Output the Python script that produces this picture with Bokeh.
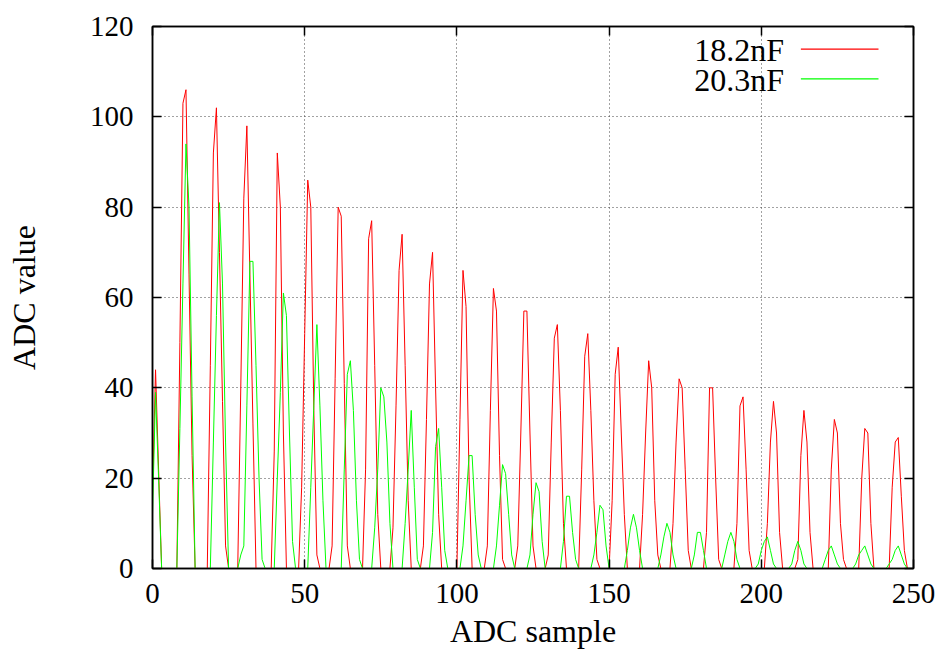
from bokeh.plotting import figure
from bokeh.models import Range1d, LinearAxis, Label, Arrow, FixedTicker, CustomJSTickFormatter
from bokeh.embed import file_html
from bokeh.resources import INLINE

# ---------------- data ----------------
series_names = ["18.2nF", "20.3nF"]
series_colors = ["#ff0000", "#00ff00"]

x_ticks = [0, 50, 100, 150, 200, 250]
y_ticks = [0, 20, 40, 60, 80, 100, 120]

sample = list(range(250))

adc_182nF = [
    16, 44, 22, 0, 0, 0, 0, 0, 0, 50,
    103, 106, 65, 25, 0, 0, 0, 0, 0, 45,
    92, 102, 70, 37, 5, 0, 0, 0, 0, 40,
    82, 98, 65, 32, 0, 0, 0, 0, 0, 0,
    26, 92, 80, 30, 0, 0, 0, 0, 0, 18,
    52, 86, 80, 35, 3, 0, 0, 0, 0, 5,
    42, 80, 78, 41, 5, 0, 0, 0, 0, 0,
    22, 73, 77, 45, 12, 0, 0, 0, 0, 9,
    36, 66, 74, 45, 15, 0, 0, 0, 0, 5,
    33, 63, 70, 40, 12, 0, 0, 0, 0, 0,
    0, 33, 66, 58, 20, 0, 0, 0, 0, 0,
    5, 35, 62, 57, 25, 2, 0, 0, 0, 0,
    5, 30, 57, 57, 30, 5, 0, 0, 0, 0,
    3, 28, 51, 54, 35, 10, 0, 0, 0, 0,
    0, 22, 47, 52, 35, 15, 2, 0, 0, 0,
    0, 15, 43, 49, 30, 12, 0, 0, 0, 0,
    0, 12, 30, 46, 40, 15, 3, 0, 0, 0,
    0, 10, 28, 42, 40, 22, 4, 0, 0, 0,
    0, 0, 8, 40, 40, 20, 2, 0, 0, 0,
    0, 0, 10, 36, 38, 22, 4, 0, 0, 0,
    0, 0, 10, 28, 37, 30, 8, 0, 0, 0,
    0, 0, 2, 25, 35, 28, 8, 0, 0, 0,
    0, 0, 0, 22, 33, 30, 10, 2, 0, 0,
    0, 0, 0, 20, 31, 30, 10, 0, 0, 0,
    0, 0, 0, 18, 28, 29, 16, 4, 0, 0,
]

adc_203nF = [
    12, 39, 20, 0, 0, 0, 0, 0, 0, 31,
    63, 94, 80, 38, 0, 0, 0, 0, 0, 0,
    28, 56, 81, 63, 28, 0, 0, 0, 0, 3,
    5, 36, 68, 68, 45, 20, 2, 0, 0, 0,
    0, 20, 39, 61, 56, 30, 6, 0, 0, 0,
    0, 0, 18, 36, 54, 36, 15, 0, 0, 0,
    0, 0, 0, 22, 43, 46, 35, 15, 2, 0,
    0, 0, 0, 9, 22, 40, 38, 28, 10, 0,
    0, 0, 0, 10, 22, 35, 18, 2, 0, 0,
    0, 0, 8, 27, 31, 18, 4, 0, 0, 0,
    0, 0, 5, 15, 25, 25, 12, 3, 0, 0,
    0, 0, 0, 5, 14, 23, 21, 12, 3, 0,
    0, 0, 0, 0, 3, 12, 19, 17, 6, 0,
    0, 0, 0, 0, 0, 6, 16, 16, 8, 2,
    0, 0, 0, 0, 0, 3, 8, 14, 13, 5,
    0, 0, 0, 0, 0, 0, 4, 9, 12, 9,
    4, 0, 0, 0, 0, 0, 0, 3, 7, 10,
    8, 3, 0, 0, 0, 0, 0, 0, 3, 8,
    8, 4, 0, 0, 0, 0, 0, 0, 3, 6,
    8, 6, 2, 0, 0, 0, 0, 0, 0, 1,
    4, 6, 7, 4, 1, 0, 0, 0, 0, 0,
    1, 4, 6, 4, 1, 0, 0, 0, 0, 0,
    0, 2, 4, 5, 3, 1, 0, 0, 0, 0,
    0, 1, 3, 4, 5, 3, 1, 0, 0, 0,
    0, 0, 1, 2, 4, 5, 3, 1, 0, 0,
]

# ---------------- figure ----------------
FONT = "Liberation Serif"

p = figure(
    width=938, height=656,
    x_range=Range1d(0, 250), y_range=Range1d(0, 120),
    output_backend="svg", toolbar_location=None,
    min_border_left=152, min_border_right=25,
    min_border_top=26, min_border_bottom=88,
    background_fill_color="white", border_fill_color="white",
)

xa = p.below[0]
ya = p.left[0]

p.line(sample, adc_182nF, line_color=series_colors[0], line_width=1)
p.line(sample, adc_203nF, line_color=series_colors[1], line_width=1)

# mirrored axes (ticks only)
right_axis = LinearAxis(ticker=FixedTicker(ticks=y_ticks),
                        formatter=CustomJSTickFormatter(code="return ''"))
top_axis = LinearAxis(ticker=FixedTicker(ticks=x_ticks),
                      formatter=CustomJSTickFormatter(code="return ''"))
p.add_layout(right_axis, "right")
p.add_layout(top_axis, "above")

xa.ticker = FixedTicker(ticks=x_ticks)
ya.ticker = FixedTicker(ticks=y_ticks)

for ax in [xa, ya, right_axis, top_axis]:
    ax.axis_line_color = "black"
    ax.axis_line_width = 1.5
    ax.major_tick_in = 9
    ax.major_tick_out = 0
    ax.major_tick_line_color = "black"
    ax.major_tick_line_width = 1.5
    ax.minor_tick_line_color = None
    ax.major_label_text_font = FONT
    ax.major_label_text_color = "black"
    ax.axis_label_text_font = FONT
    ax.axis_label_text_font_style = "normal"
    ax.axis_label_text_color = "black"

for ax in [right_axis, top_axis]:
    ax.major_label_text_font_size = "1px"
    ax.major_label_standoff = 0

xa.major_label_text_font_size = "29px"
ya.major_label_text_font_size = "29px"
xa.major_label_standoff = 15
ya.major_label_standoff = 19
xa.axis_label = "ADC sample"
ya.axis_label = "ADC value"
xa.axis_label_text_font_size = "32px"
ya.axis_label_text_font_size = "32px"
xa.axis_label_standoff = 7
ya.axis_label_standoff = 45

p.xgrid.ticker = FixedTicker(ticks=x_ticks)
p.ygrid.ticker = FixedTicker(ticks=y_ticks)
for g in [p.xgrid, p.ygrid]:
    g.grid_line_color = "#444444"
    g.grid_line_dash = "1 3"
    g.grid_line_width = 1

p.outline_line_color = "black"
p.outline_line_width = 1.5

# legend (text on the left, line sample on the right, as in gnuplot)
legend_text_x = 207.5
legend_line_x0 = 213.0
legend_line_x1 = 238.5
legend_text_y = [114.75, 108.25]
legend_line_y = [115.0, 108.4]
for name, col, ty, ly in zip(series_names, series_colors, legend_text_y, legend_line_y):
    p.add_layout(Label(x=legend_text_x, y=ty, text=name, text_align="right",
                       text_baseline="alphabetic", text_font=FONT,
                       text_font_size="32px", text_color="black"))
    p.add_layout(Arrow(x_start=legend_line_x0, y_start=ly, x_end=legend_line_x1, y_end=ly,
                       start=None, end=None, line_color=col, line_width=1.2))

open("out.html", "w").write(file_html(p, INLINE))
